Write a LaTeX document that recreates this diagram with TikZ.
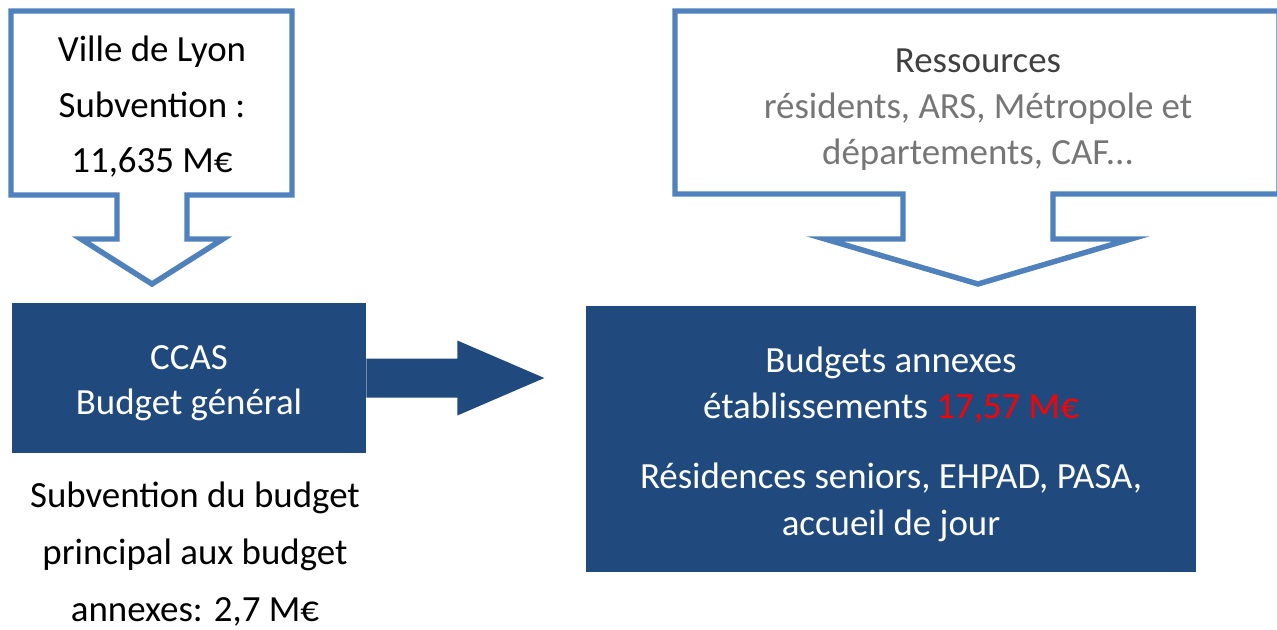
\documentclass[tikz,border=0pt]{standalone}
\usepackage{fontspec}
\setmainfont{Carlito}
\usetikzlibrary{positioning}

\definecolor{outlineblue}{RGB}{79,129,189}
\definecolor{boxblue}{RGB}{32,74,125}
\definecolor{headgray}{RGB}{64,64,64}
\definecolor{srcgray}{RGB}{118,118,118}

\tikzset{
  callout/.style={draw=outlineblue,line width=3.1pt,fill=white,line join=miter},
  bluebox/.style={fill=boxblue,inner sep=0pt},
  boxtext/.style={text=white,align=center,inner sep=0pt},
  plaintext/.style={align=center,inner sep=0pt}
}

\begin{document}
\begin{tikzpicture}[x=0.02cm,y=-0.02cm]
  \useasboundingbox (0,0) rectangle (1277,629);

  % callouts
  \draw[callout] (11,11) -- (292,11) -- (292,195) -- (187,195) -- (187,239)
    -- (223,239) -- (152,284) -- (81,239) -- (117,239) -- (117,195)
    -- (11,195) -- cycle;% city
  \draw[callout] (675,11) -- (1279,11) -- (1279,194) -- (1053,194) -- (1053,239)
    -- (1131,239) -- (978,284) -- (825,239) -- (903,239) -- (903,194)
    -- (675,194) -- cycle;% resources

  % dark boxes
  \node[bluebox,minimum width=7.08cm,minimum height=3cm] (ccas) at (189,378) {};
  \node[bluebox,minimum width=12.2cm,minimum height=5.32cm] (annexes) at (891,439) {};

  % block arrow
  \fill[boxblue] (ccas.east) ++(0,-19.5) -- ++(91,0) -- ++(0,-18) -- ++(87,37.5)
    -- ++(-87,37.5) -- ++(0,-18) -- ++(-91,0) -- cycle;

  % texts
  \node[plaintext,font=\fontsize{21}{31.6}\selectfont] (city) at (152,107)
    {Ville de Lyon\\Subvention :\\11,635 M€};
  \node[plaintext,font=\fontsize{21}{26.2}\selectfont] (sources) at (978,110)
    {\textcolor{headgray}{Ressources}\\
     \textcolor{srcgray}{résidents, ARS, Métropole et}\\
     \textcolor{srcgray}{départements, CAF...}};
  \node[boxtext,font=\fontsize{21}{25.6}\selectfont] (ccastext) at (189,383)
    {CCAS\\Budget général};
  \node[boxtext,font=\fontsize{21}{26.2}\selectfont] (annexestext) at (891,444)
    {Budgets annexes\\
     établissements \textcolor{red}{17,57 M€}\\[14pt]
     Résidences seniors, EHPAD, PASA,\\
     accueil de jour};
  \node[plaintext,font=\fontsize{21}{32.4}\selectfont] (transfer) at (195,554)
    {Subvention du budget\\principal aux budget\\annexes: 2,7 M€};
\end{tikzpicture}
\end{document}
